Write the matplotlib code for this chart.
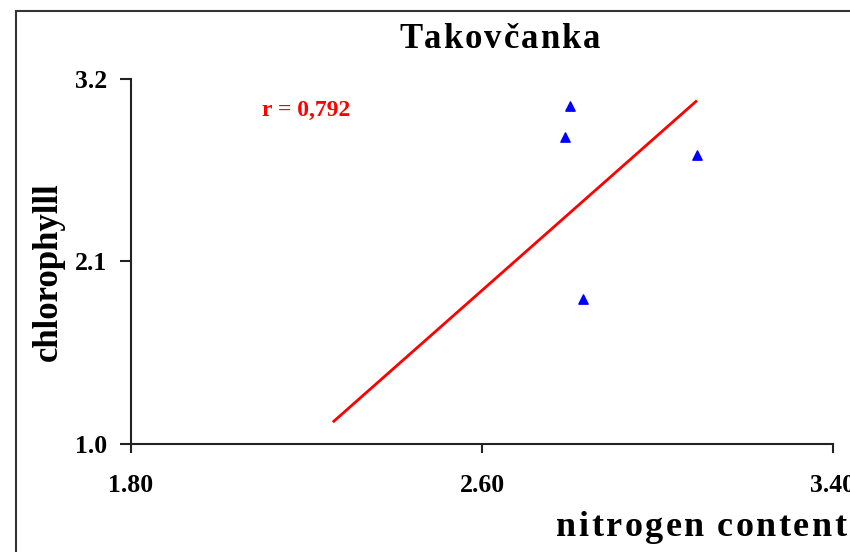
import matplotlib.pyplot as plt
from matplotlib.patches import Rectangle
from matplotlib.transforms import IdentityTransform

# Measured values
nitrogen = [2.80, 2.79, 3.09, 2.83]
chlorophyll = [3.04, 2.85, 2.74, 1.87]

# Trend line end points
trend_x = [2.26, 3.09]
trend_y = [1.13, 3.07]

x_ticks = [1.80, 2.60, 3.40]
x_labels = ["1.80", "2.60", "3.40"]
y_ticks = [1.0, 2.1, 3.2]
y_labels = ["1.0", "2.1", "3.2"]

plt.rcParams['font.family'] = ['Liberation Serif', 'DejaVu Serif']
plt.rcParams['font.weight'] = 'bold'

W, H = 850, 552
fig = plt.figure(figsize=(W / 100, H / 100), dpi=100)
ax = fig.add_axes([0.1541, 0.1962, 0.8259, 0.6607])


def spaced_text(x, y, s, gap, size):
    # draw a string letter by letter with extra tracking (pixel coords, top-left origin)
    r = fig.canvas.get_renderer()
    px = x
    for ch in s:
        if ch == ' ':
            px += size * 0.3 + gap
            continue
        t = fig.text(px, H - y, ch, fontsize=size, fontweight='bold',
                     ha='left', va='baseline', transform=IdentityTransform())
        px += t.get_window_extent(r).width + gap


ax.plot(trend_x, trend_y, color='#ff0000', lw=2.0, solid_capstyle='butt')
ax.scatter(nitrogen, chlorophyll, marker='^', s=45, color='#0000ff', zorder=3)

ax.set_xlim(1.8, 3.4)
ax.set_ylim(1.0, 3.2)
ax.set_xticks(x_ticks)
ax.set_xticklabels(x_labels)
ax.set_yticks(y_ticks)
ax.set_yticklabels(y_labels)

for s in ['top', 'right']:
    ax.spines[s].set_visible(False)
for s in ['left', 'bottom']:
    ax.spines[s].set_linewidth(1.5)
    ax.spines[s].set_color('#222222')

ax.tick_params(axis='y', length=8, width=1.5, pad=9, labelsize=18.5, colors='#222222')
ax.tick_params(axis='x', length=6.5, width=1.5, pad=15, labelsize=18.5, colors='#222222')
for lbl in ax.get_xticklabels() + ax.get_yticklabels():
    lbl.set_fontweight('bold')
    lbl.set_color('black')

ax.text(0.249, 0.915, "r = 0,792", transform=ax.transAxes, color='#ff0000',
        fontsize=17, fontweight='bold', ha='center', va='center')

spaced_text(399, 48, "Takovčanka", 2, 25)
spaced_text(556, 536, "nitrogen content", 2.5, 26)
fig.text(57 / W, 1 - 272 / H, "chlorophylll", fontsize=25, fontweight='bold',
         rotation=90, ha='center', va='baseline', rotation_mode='anchor')

# outer frame
fig.patches.append(Rectangle((16 / W, -0.1), 1.2, 1 - 11 / H + 0.1,
                             transform=fig.transFigure, fill=False,
                             edgecolor='#333333', lw=1.5))

fig.savefig("out.png", dpi=100)
